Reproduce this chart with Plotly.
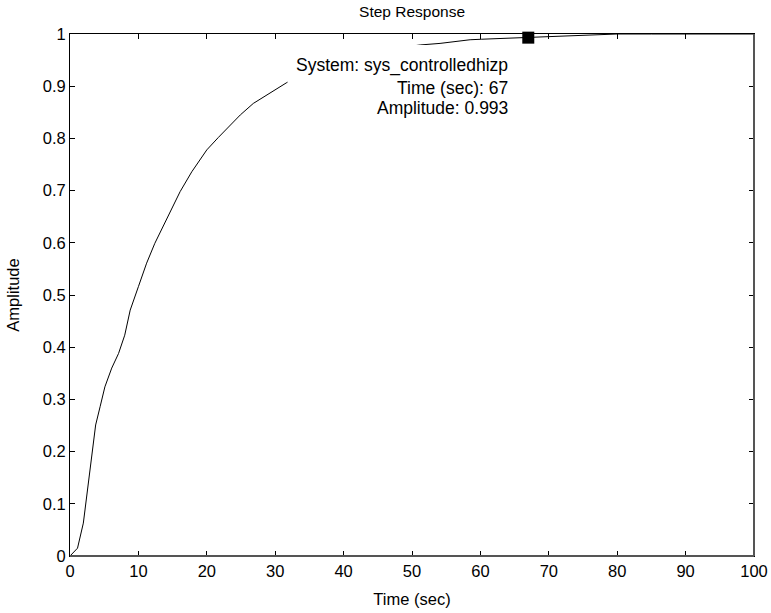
import plotly.graph_objects as go

time_sec = [0, 1.1, 1.95, 2.7, 3.2, 3.75, 4.4, 5.1, 6.1, 7.1, 8.0, 8.8, 10.0, 11.2, 12.4, 13.4,
            14.6, 16.1, 17.8, 20.0, 21.7, 24.9, 26.8, 30.0, 31.7, 35, 40, 45, 51.2, 54.1, 58.5,
            60.2, 64.8, 67, 70, 74, 78, 80, 85, 90, 95, 100]
amplitude = [0, 0.015, 0.063, 0.139, 0.19, 0.251, 0.286, 0.324, 0.36, 0.388, 0.423, 0.471, 0.516,
             0.561, 0.599, 0.625, 0.656, 0.698, 0.736, 0.778, 0.802, 0.845, 0.867, 0.894, 0.907,
             0.93, 0.955, 0.968, 0.979, 0.982, 0.989, 0.990, 0.992, 0.993, 0.995, 0.997, 0.999,
             1.0, 1.0, 1.0, 1.0, 1.0]

tip_time = [67]
tip_amp = [0.993]
tip_lines = ["System: sys_controlledhizp", "Time (sec): 67", "Amplitude: 0.993"]

x_ticks = [0, 10, 20, 30, 40, 50, 60, 70, 80, 90, 100]
y_ticks = [0, 0.1, 0.2, 0.3, 0.4, 0.5, 0.6, 0.7, 0.8, 0.9, 1]
y_labels = ["0", "0.1", "0.2", "0.3", "0.4", "0.5", "0.6", "0.7", "0.8", "0.9", "1"]

FONT = "Liberation Sans, Arial, sans-serif"
FS = 16.5

fig = go.Figure()
fig.add_trace(go.Scatter(x=time_sec, y=amplitude, mode="lines",
                         line=dict(color="black", width=1), showlegend=False, hoverinfo="skip"))

# data tip background box
fig.add_shape(type="rect", xref="x", yref="y", x0=31.8, x1=65.2, y0=0.826, y1=0.9788,
              fillcolor="white", line=dict(width=0), layer="above")

fig.add_trace(go.Scatter(x=tip_time, y=tip_amp, mode="markers",
                         marker=dict(symbol="square", size=12, color="black"),
                         cliponaxis=False, showlegend=False))

# frame: bottom and right grey
fig.add_shape(type="line", xref="paper", yref="paper", x0=0, x1=1, y0=0, y1=0,
              line=dict(color="#555555", width=2), layer="above")
fig.add_shape(type="line", xref="paper", yref="paper", x0=1, x1=1, y0=0, y1=1,
              line=dict(color="#555555", width=2), layer="above")

tip_y = [0.9406, 0.8966, 0.858]
for txt, yy in zip(tip_lines, tip_y):
    fig.add_annotation(x=64.33, y=yy, xref="x", yref="y", text=txt, showarrow=False,
                       xanchor="right", yanchor="middle",
                       font=dict(family=FONT, size=17.5, color="black"))

axis_common = dict(showline=True, linecolor="black", linewidth=1, mirror="ticks",
                   ticks="inside", ticklen=5, tickcolor="black", showgrid=False,
                   zeroline=False, automargin=False,
                   tickfont=dict(family=FONT, size=FS, color="black"))

fig.update_xaxes(range=[0, 100], tickvals=x_ticks, ticktext=[str(v) for v in x_ticks],
                 title=dict(text="Time (sec)", font=dict(family=FONT, size=FS, color="black"),
                            standoff=14), **axis_common)
fig.update_yaxes(range=[0, 1], tickvals=y_ticks, ticktext=y_labels,
                 title=dict(text="Amplitude", font=dict(family=FONT, size=FS, color="black"),
                            standoff=18), **axis_common)

fig.update_layout(
    width=771, height=613,
    margin=dict(l=70, r=17, t=34, b=57),
    paper_bgcolor="white", plot_bgcolor="white",
    title=dict(text="Step Response", x=0.5345, xanchor="center", y=1 - 12 / 613,
               yanchor="middle", font=dict(family=FONT, size=15.5, color="black")),
    showlegend=False,
)

fig.write_html("out.html")
